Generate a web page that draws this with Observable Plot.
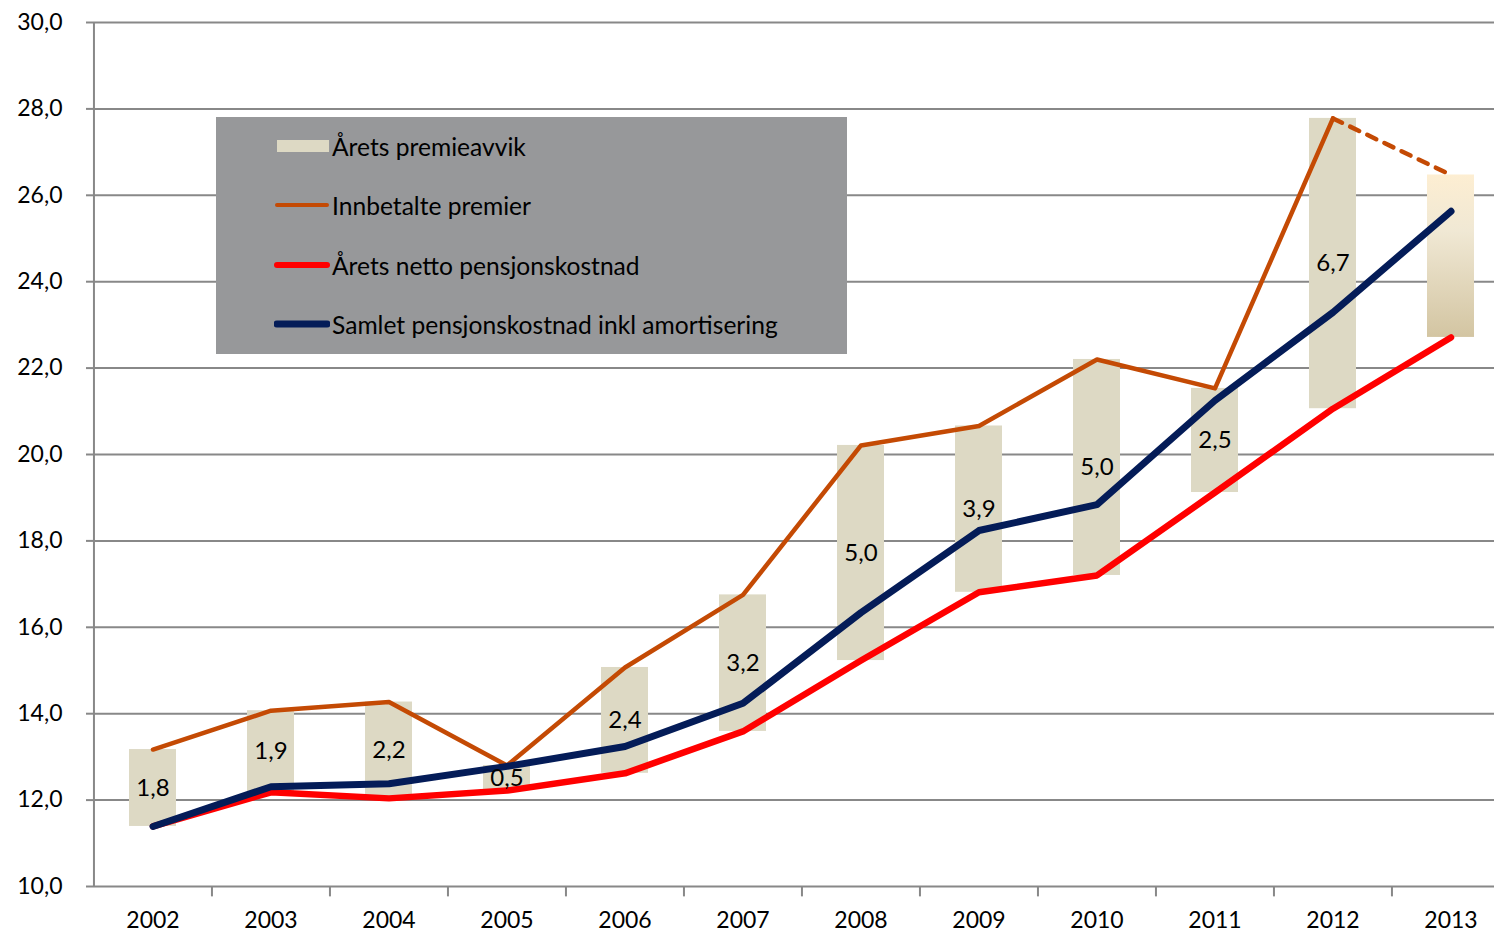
<!DOCTYPE html>
<html>
<head>
<meta charset="utf-8">
<script src="https://cdn.jsdelivr.net/npm/d3@7"></script>
<script src="https://cdn.jsdelivr.net/npm/@observablehq/plot@0.6"></script>
<style>
  html, body { margin: 0; padding: 0; background: white; }
  #wrap { position: relative; width: 1494px; height: 933px; overflow: hidden; font-family: Lato, "Open Sans", sans-serif; }
  #legend { position: absolute; left: 216px; top: 117px; width: 631px; height: 237px; background: #97989a; }
  .item { position: absolute; left: 58px; height: 30px; display: flex; align-items: center; font-size: 24.6px; color: #000; white-space: nowrap; }
  .item svg { margin-right: 2px; }
</style>
</head>
<body>
<div id="wrap"></div>
<script>
const years = ["2002","2003","2004","2005","2006","2007","2008","2009","2010","2011","2012","2013"];
const innbetalt = [13.17,14.07,14.27,12.80,15.07,16.75,20.21,20.66,22.20,21.53,27.78,26.47];
const netto     = [11.39,12.18,12.04,12.22,12.62,13.59,15.23,16.81,17.20,19.12,21.06,22.71];
const samlet    = [11.39,12.31,12.38,12.78,13.24,14.24,16.34,18.24,18.84,21.25,23.29,25.63];
const avvikLabels = ["1,8","1,9","2,2","0,5","2,4","3,2","5,0","3,9","5,0","2,5","6,7",""];
const yTicks = [10,12,14,16,18,20,22,24,26,28,30];
const seriesNames = ["Årets premieavvik","Innbetalte premier","Årets netto pensjonskostnad","Samlet pensjonskostnad inkl amortisering"];
const colors = {bar: "#ddd9c4", innbetalt: "#c44a04", netto: "#ff0000", samlet: "#041c58", grid: "#888888"};

const rows = years.map((year, i) => ({year, innbetalt: innbetalt[i], netto: netto[i], samlet: samlet[i], label: avvikLabels[i]}));
const actual = rows.slice(0, 11);
const budget = rows.slice(11);
const dashed = rows.slice(10);

const xRange = [93, 1510];
const step = (xRange[1] - xRange[0]) / years.length;

const plot = Plot.plot({
  width: 1494, height: 933,
  marginLeft: 93, marginTop: 22, marginBottom: 47, marginRight: 0,
  style: {fontFamily: "Lato, 'Open Sans', sans-serif", fontSize: "23px", color: "#000", background: "white", overflow: "visible"},
  x: {domain: years, range: xRange, paddingInner: 0.6, paddingOuter: 0.3, align: 0.5, label: null, tickSize: 0, tickPadding: 25},
  y: {domain: [10, 30], ticks: yTicks, tickFormat: d => d.toFixed(1).replace(".", ","), tickSize: 7, tickPadding: 24, label: null},
  marks: [
    Plot.ruleY(yTicks, {stroke: colors.grid, strokeWidth: 2}),
    Plot.ruleX([years[0]], {dx: -step / 2, stroke: colors.grid, strokeWidth: 2}),
    Plot.ruleX(years.slice(1), {dx: -step / 2, y1: 10, y2: 9.76, stroke: colors.grid, strokeWidth: 2}),
    Plot.barY(actual, {x: "year", y1: "netto", y2: "innbetalt", fill: colors.bar}),
    Plot.barY(budget, {x: "year", y1: "netto", y2: "innbetalt", fill: "url(#budgetGrad)"}),
    Plot.line(actual, {x: "year", y: "innbetalt", stroke: colors.innbetalt, strokeWidth: 4.5, strokeLinejoin: "round", strokeLinecap: "round"}),
    Plot.line(dashed, {x: "year", y: "innbetalt", stroke: colors.innbetalt, strokeWidth: 4.5, strokeDasharray: "10,9", strokeLinecap: "round"}),
    Plot.line(rows, {x: "year", y: "netto", stroke: colors.netto, strokeWidth: 6.5, strokeLinejoin: "round", strokeLinecap: "round"}),
    Plot.line(rows, {x: "year", y: "samlet", stroke: colors.samlet, strokeWidth: 7, strokeLinejoin: "round", strokeLinecap: "round"}),
    Plot.text(actual, {x: "year", y: d => (d.netto + d.innbetalt) / 2, text: "label", fontSize: 24, fill: "#000"})
  ]
});

// gradient definition for the 2013 (budget) bar
const svg = d3.select(plot);
const grad = svg.insert("defs", ":first-child").append("linearGradient")
  .attr("id", "budgetGrad").attr("x1", 0).attr("y1", 0).attr("x2", 0).attr("y2", 1);
grad.append("stop").attr("offset", "0%").attr("stop-color", "#fdeed2");
grad.append("stop").attr("offset", "35%").attr("stop-color", "#f0e8d4");
grad.append("stop").attr("offset", "100%").attr("stop-color", "#d3c5a2");
svg.selectAll("[aria-label='y-axis tick'] path, [aria-label='y-axis'] path").attr("stroke", colors.grid).attr("stroke-width", 2);

const wrap = document.getElementById("wrap");
wrap.appendChild(plot);

// legend (inside the plot area)
const legend = document.createElement("div");
legend.id = "legend";
const swatches = [
  `<svg width="56" height="14"><rect x="3" y="1" width="52" height="12" fill="${colors.bar}"/></svg>`,
  `<svg width="56" height="14"><line x1="3" x2="53" y1="7" y2="7" stroke="${colors.innbetalt}" stroke-width="4" stroke-linecap="round"/></svg>`,
  `<svg width="56" height="14"><line x1="3" x2="53" y1="7" y2="7" stroke="${colors.netto}" stroke-width="6" stroke-linecap="round"/></svg>`,
  `<svg width="56" height="14"><line x1="3" x2="53" y1="7" y2="7" stroke="${colors.samlet}" stroke-width="7" stroke-linecap="round"/></svg>`
];
const tops = [14, 73, 133, 192];
seriesNames.forEach((name, i) => {
  const it = document.createElement("div");
  it.className = "item";
  it.style.top = tops[i] + "px";
  it.innerHTML = swatches[i] + `<span>${name}</span>`;
  legend.appendChild(it);
});
wrap.appendChild(legend);
</script>
</body>
</html>
